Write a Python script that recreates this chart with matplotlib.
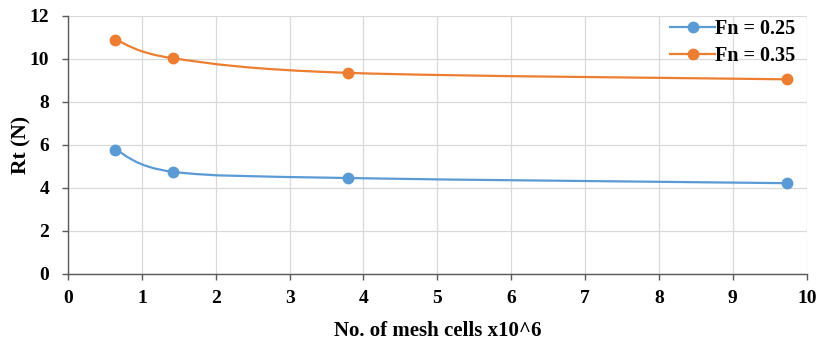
import matplotlib
matplotlib.use("Agg")
import matplotlib.pyplot as plt
from matplotlib.path import Path
from matplotlib.patches import PathPatch
from matplotlib.lines import Line2D
import numpy as np

mesh_cells = [0.64, 1.42, 3.79, 9.73]
rt_fn025 = [5.78, 4.75, 4.46, 4.22]
rt_fn035 = [10.90, 10.03, 9.35, 9.05]
series_labels = ["Fn = 0.25", "Fn = 0.35"]
colors = ["#5B9BD5", "#ED7D31"]
x_ticks = list(range(0, 11))
y_ticks = list(range(0, 13, 2))

plt.rcParams['font.family'] = ['Liberation Serif', 'DejaVu Serif']
plt.rcParams['font.weight'] = 'bold'

fig = plt.figure(figsize=(8.19, 3.45), dpi=100)
ax = fig.add_axes([0.083, 0.206, 0.902, 0.748])


def smooth_path(xs, ys):
    pts = np.column_stack([xs, ys]).astype(float)
    n = len(pts)
    verts = [pts[0]]
    codes = [Path.MOVETO]
    for i in range(n - 1):
        p0 = pts[i - 1] if i > 0 else pts[i]
        p1 = pts[i]
        p2 = pts[i + 1]
        p3 = pts[i + 2] if i + 2 < n else pts[i + 1]
        c1 = p1 + (p2 - p0) / 6.0
        c2 = p2 - (p3 - p1) / 6.0
        verts += [c1, c2, p2]
        codes += [Path.CURVE4] * 3
    return Path(verts, codes)


for ys, c in zip([rt_fn025, rt_fn035], colors):
    patch = PathPatch(smooth_path(mesh_cells, ys), facecolor='none', edgecolor=c,
                      lw=1.6, zorder=3, transform=ax.transData)
    ax.add_patch(patch)
    ax.plot(mesh_cells, ys, linestyle='none', marker='o', markersize=7.5,
            color=c, zorder=4)

ax.set_xlim(0, 10)
ax.set_ylim(0, 12)
ax.set_xticks(x_ticks)
ax.set_yticks(y_ticks)
ax.grid(True, color='#D9D9D9', linewidth=0.9)
ax.set_axisbelow(True)
for s in ['top', 'right']:
    ax.spines[s].set_visible(False)
for s in ['left', 'bottom']:
    ax.spines[s].set_color('#595959')
    ax.spines[s].set_linewidth(1.0)
ax.tick_params(axis='both', direction='out', length=4.5, width=1.0, color='#595959',
               labelsize=14)
ax.tick_params(axis='y', pad=9)
ax.tick_params(axis='x', pad=7)
for lab in ax.get_xticklabels() + ax.get_yticklabels():
    lab.set_fontweight('bold')

ax.set_xlabel("No. of mesh cells x10^6", fontsize=15, fontweight='bold', labelpad=10)
ax.set_ylabel("Rt (N)", fontsize=15.5, fontweight='bold')
ax.yaxis.set_label_coords(-0.049, 0.5)

handles = [Line2D([0], [0], color=c, lw=1.6, marker='o', markersize=7.5) for c in colors]
leg = ax.legend(handles, series_labels, loc='upper right', bbox_to_anchor=(0.995, 1.02),
                frameon=False, handlelength=2.2, handletextpad=0.0,
                labelspacing=0.35, borderaxespad=0.0,
                prop={'weight': 'bold', 'size': 14.5})

fig.savefig("out.png", dpi=100)
